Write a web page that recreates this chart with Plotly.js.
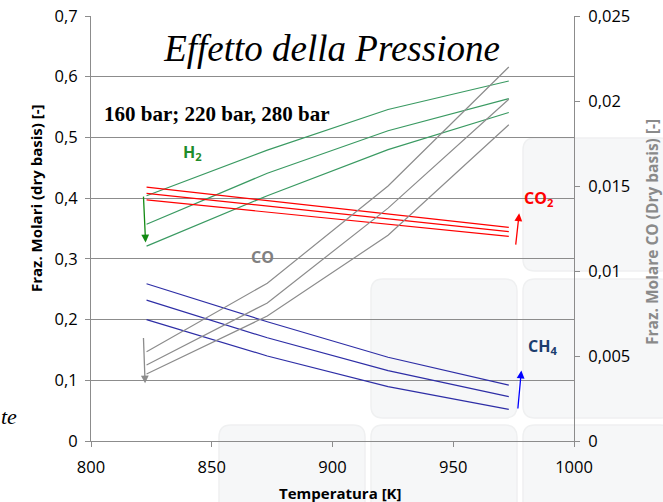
<!DOCTYPE html>
<html>
<head>
<meta charset="utf-8">
<script src="https://cdn.plot.ly/plotly-3.0.1.min.js"></script>
<style>
  html, body { margin: 0; padding: 0; background: #ffffff; }
  #chart { width: 663px; height: 502px; }
</style>
</head>
<body>
<div id="chart"></div>
<script>
// ---------- data ----------
const temps = [823, 873, 923, 973];

const h2_160 = [0.404, 0.479, 0.546, 0.593];
const h2_220 = [0.357, 0.441, 0.511, 0.564];
const h2_280 = [0.321, 0.404, 0.480, 0.541];

const co2_160 = [0.397, 0.377, 0.356, 0.337];
const co2_220 = [0.408, 0.387, 0.365, 0.345];
const co2_280 = [0.418, 0.396, 0.374, 0.352];

const co_160 = [0.00525, 0.00928, 0.0150, 0.0220];
const co_220 = [0.00447, 0.00812, 0.0137, 0.0201];
const co_280 = [0.00394, 0.00735, 0.0121, 0.0186];

const ch4_160 = [0.200, 0.140, 0.0895, 0.052];
const ch4_220 = [0.232, 0.170, 0.116, 0.073];
const ch4_280 = [0.259, 0.1965, 0.138, 0.092];

const xTickVals = [800, 850, 900, 950, 1000];
const xTickText = ['800', '850', '900', '950', '1000'];
const yTickVals = [0, 0.1, 0.2, 0.3, 0.4, 0.5, 0.6, 0.7];
const yTickText = ['0', '0,1', '0,2', '0,3', '0,4', '0,5', '0,6', '0,7'];
const y2TickVals = [0, 0.005, 0.01, 0.015, 0.02, 0.025];
const y2TickText = ['0', '0,005', '0,01', '0,015', '0,02', '0,025'];

const pressures = ['160 bar', '220 bar', '280 bar'];

// ---------- styling ----------
const GREEN = '#3a9a62', RED = '#ff0000', GRAY = '#8c8c8c', BLUE = '#2e2ea6';
const W = 663, H = 502, ML = 91, MR = 89, MT = 16, MB = 61;
const PW = W - ML - MR, PH = H - MT - MB;
const px = v => (v - ML) / PW;
const py = v => (H - MB - v) / PH;

function series(xs, ys, color, name, axis) {
  return {
    x: xs, y: ys, type: 'scatter', mode: 'lines', name: name,
    yaxis: axis || 'y', line: { color: color, width: 1.2 },
    hoverinfo: 'x+y+name', showlegend: false
  };
}

const traces = [
  series(temps, h2_160, GREEN, 'H2 ' + pressures[0]),
  series(temps, h2_220, GREEN, 'H2 ' + pressures[1]),
  series(temps, h2_280, GREEN, 'H2 ' + pressures[2]),
  series(temps, co2_160, RED, 'CO2 ' + pressures[0]),
  series(temps, co2_220, RED, 'CO2 ' + pressures[1]),
  series(temps, co2_280, RED, 'CO2 ' + pressures[2]),
  series(temps, ch4_160, BLUE, 'CH4 ' + pressures[0]),
  series(temps, ch4_220, BLUE, 'CH4 ' + pressures[1]),
  series(temps, ch4_280, BLUE, 'CH4 ' + pressures[2]),
  series(temps, co_160, GRAY, 'CO ' + pressures[0], 'y2'),
  series(temps, co_220, GRAY, 'CO ' + pressures[1], 'y2'),
  series(temps, co_280, GRAY, 'CO ' + pressures[2], 'y2')
];

// background decorative rounded squares (slide background)
function roundRect(x0, y0, x1, y1, r) {
  const X = v => px(v).toFixed(5), Y = v => py(v).toFixed(5);
  return 'M' + X(x0 + r) + ',' + Y(y0) +
    ' L' + X(x1 - r) + ',' + Y(y0) +
    ' Q' + X(x1) + ',' + Y(y0) + ' ' + X(x1) + ',' + Y(y0 + r) +
    ' L' + X(x1) + ',' + Y(y1 - r) +
    ' Q' + X(x1) + ',' + Y(y1) + ' ' + X(x1 - r) + ',' + Y(y1) +
    ' L' + X(x0 + r) + ',' + Y(y1) +
    ' Q' + X(x0) + ',' + Y(y1) + ' ' + X(x0) + ',' + Y(y1 - r) +
    ' L' + X(x0) + ',' + Y(y0 + r) +
    ' Q' + X(x0) + ',' + Y(y0) + ' ' + X(x0 + r) + ',' + Y(y0) + ' Z';
}
const bgRects = [
  [523, 138, 672, 271],
  [371, 279, 517, 418],
  [523, 279, 672, 418],
  [219, 425, 365, 570],
  [371, 425, 517, 570],
  [523, 425, 672, 570]
];
const shapes = bgRects.map(r => ({
  type: 'path', xref: 'paper', yref: 'paper', layer: 'below',
  path: roundRect(r[0], r[1], r[2], r[3], 12),
  fillcolor: '#f6f7f8', line: { color: '#eff0f1', width: 1.5 }
}));

function arrow(x, y, ax, ay, color) {
  return {
    x: x, y: y, ax: ax, ay: ay, xref: 'x', yref: 'y', axref: 'x', ayref: 'y',
    showarrow: true, arrowhead: 2, arrowsize: 1.2, arrowwidth: 1.3,
    arrowcolor: color, text: ''
  };
}

const labelFont = (c) => ({ family: 'Open Sans, sans-serif', size: 16, color: c });
function label(text, x, y, color) {
  return { text: text, xref: 'x', yref: 'y', x: x, y: y, xanchor: 'center', yanchor: 'middle',
           showarrow: false, font: labelFont(color) };
}

const annotations = [
  {
    text: '<b>160 bar; 220 bar, 280 bar</b>', xref: 'paper', yref: 'paper',
    x: px(102), y: py(114), xanchor: 'left', yanchor: 'middle', showarrow: false,
    font: { family: 'Liberation Serif, serif', size: 21, color: '#000' }
  },
  {
    text: '<i>te</i>', xref: 'paper', yref: 'paper',
    x: px(-1), y: py(416), xanchor: 'left', yanchor: 'middle', showarrow: false,
    font: { family: 'Liberation Serif, serif', size: 22, color: '#000' }
  },
  label('<b>H<sub>2</sub></b>', 842, 0.476, '#1f8c2a'),
  label('<b>CO<sub>2</sub></b>', 985.5, 0.399, '#ff0000'),
  label('<b>CO</b>', 871, 0.303, '#808080'),
  label('<b>CH<sub>4</sub></b>', 987, 0.155, '#1b3d6e'),
  arrow(822.6, 0.327, 821.7, 0.405, '#138a13'),
  arrow(822.4, 0.095, 821.7, 0.172, '#8c8c8c'),
  arrow(977.3, 0.375, 975.8, 0.321, '#ff0000'),
  arrow(978.2, 0.116, 976.7, 0.051, '#0000ff'),
  {
    text: '<b>Fraz. Molari (dry basis) [-]</b>', xref: 'paper', yref: 'paper',
    x: px(36), y: py(198), xanchor: 'center', yanchor: 'middle', textangle: -90, showarrow: false,
    font: { family: 'Open Sans, sans-serif', size: 15, color: '#000' }
  },
  {
    text: '<b>Fraz. Molare CO (Dry basis) [-]</b>', xref: 'paper', yref: 'paper',
    x: px(652), y: py(232), xanchor: 'center', yanchor: 'middle', textangle: -90, showarrow: false,
    font: { family: 'Open Sans, sans-serif', size: 15.5, color: '#8a8a8a' }
  },
  {
    text: '<b>Temperatura [K]</b>', xref: 'paper', yref: 'paper',
    x: px(340), y: py(493), xanchor: 'center', yanchor: 'middle', showarrow: false,
    font: { family: 'Open Sans, sans-serif', size: 15, color: '#000' }
  }
];

const tickFont = { family: 'Open Sans, sans-serif', size: 16.5, color: '#000' };

const layout = {
  width: W, height: H,
  margin: { l: ML, r: MR, t: MT, b: MB, pad: 0 },
  paper_bgcolor: '#ffffff', plot_bgcolor: 'rgba(0,0,0,0)',
  showlegend: false,
  title: {
    text: '<i>Effetto della Pressione</i>',
    font: { family: 'Liberation Serif, serif', size: 37, color: '#000' },
    xref: 'paper', yref: 'paper', x: px(332), y: py(48),
    xanchor: 'center', yanchor: 'middle'
  },
  xaxis: {
    range: [800, 1000], tickvals: xTickVals, ticktext: xTickText,
    showgrid: false, zeroline: false, showline: true, linecolor: '#8c8c8c', linewidth: 1,
    ticks: 'outside', ticklen: 5, tickcolor: '#8c8c8c', tickfont: tickFont,
    ticklabelstandoff: 6,
    automargin: false, fixedrange: true
  },
  yaxis: {
    range: [0, 0.7], tickvals: yTickVals, ticktext: yTickText,
    showgrid: true, gridcolor: '#8c8c8c', gridwidth: 1,
    zeroline: false, showline: true, linecolor: '#8c8c8c', linewidth: 1,
    ticks: 'outside', ticklen: 5, tickcolor: '#8c8c8c', tickfont: tickFont,
    ticklabelstandoff: 4,
    automargin: false, fixedrange: true
  },
  yaxis2: {
    range: [0, 0.025], tickvals: y2TickVals, ticktext: y2TickText,
    overlaying: 'y', side: 'right', showgrid: false, zeroline: false,
    showline: true, linecolor: '#8c8c8c', linewidth: 1,
    ticks: 'outside', ticklen: 5, tickcolor: '#8c8c8c', tickfont: tickFont,
    ticklabelstandoff: 5,
    automargin: false, fixedrange: true
  },
  shapes: shapes,
  annotations: annotations
};

Plotly.newPlot('chart', traces, layout, { displayModeBar: false, staticPlot: true });
</script>
</body>
</html>
